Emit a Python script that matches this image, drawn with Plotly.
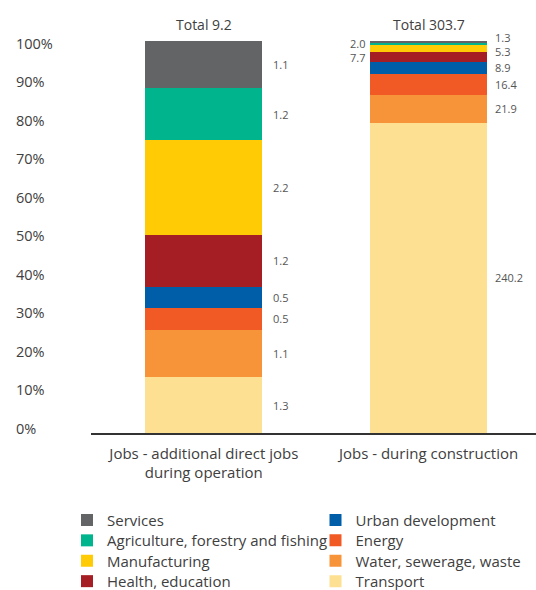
import numpy as np
import plotly.graph_objects as go

categories = ["Jobs - additional direct jobs<br>during operation", "Jobs - during construction"]
totals = ["Total 9.2", "Total 303.7"]

# stacking order, bottom to top
series_names = ["Transport", "Water, sewerage, waste", "Energy", "Urban development",
                "Health, education", "Manufacturing", "Agriculture, forestry and fishing", "Services"]
operation_values = [1.3, 1.1, 0.5, 0.5, 1.2, 2.2, 1.2, 1.1]
construction_values = [240.2, 21.9, 16.4, 8.9, 7.7, 5.3, 2.0, 1.3]
colors = ["#FEE092", "#F7943A", "#F15A25", "#005DA8", "#A41E23", "#FFCB05", "#00B48D", "#636466"]

ytick_vals = [0, 10, 20, 30, 40, 50, 60, 70, 80, 90, 100]
ytick_text = [f"{v}%" for v in ytick_vals]

# legend grid: column (0/1) and row (0..3) of each series
legend_column = [1, 1, 1, 1, 0, 0, 0, 0]
legend_row = [3, 2, 1, 0, 3, 2, 1, 0]

# label placement on construction bar: side and vertical nudge (px)
constr_side = ["right", "right", "right", "right", "left", "right", "left", "right"]
constr_nudge = [0, 0, 0, 0, 0, -3, 0, 4]

FONT = "Open Sans"
x_pos = [0, 1]
bar_w = 0.52

# plot-area geometry in pixels
W, H = 536, 590
ML, MR, MT, MB = 91, 0, 41, 157
PW, PH = W - ML - MR, H - MT - MB

fig = go.Figure()
legend_layouts = {}
for i, name in enumerate(series_names):
    key = "legend" if i == 0 else f"legend{i + 1}"
    fig.add_trace(go.Bar(
        x=x_pos, y=[operation_values[i], construction_values[i]],
        name=name, width=bar_w,
        marker=dict(color=colors[i], line=dict(width=0)),
        legend=key, hoverinfo="skip",
    ))
    text_left_px = 107 + 248.5 * legend_column[i]
    row_center_px = 520 + 20.4 * legend_row[i]
    legend_layouts[key] = dict(
        x=(text_left_px - 40 - ML) / PW, xanchor="left",
        y=(MT + PH - (row_center_px - 16.3)) / PH, yanchor="top",
        orientation="v", font=dict(family=FONT, size=15, color="#404040"),
        bgcolor="rgba(0,0,0,0)",
    )

annotations = []
for xi, vals in enumerate([operation_values, construction_values]):
    v = np.array(vals, dtype=float)
    pct = v / v.sum() * 100
    top = np.cumsum(pct)
    mid = top - pct / 2
    for i in range(len(v)):
        if xi == 0:
            annotations.append(dict(x=xi + bar_w / 2, y=mid[i], xref="x", yref="y",
                                    text=f"{vals[i]:.1f}", showarrow=False, xanchor="left",
                                    xshift=9, yanchor="middle",
                                    font=dict(family=FONT, size=11, color="#555555")))
        else:
            side = constr_side[i]
            annotations.append(dict(x=xi + (bar_w / 2 if side == "right" else -bar_w / 2),
                                    y=mid[i], xref="x", yref="y",
                                    text=f"{vals[i]:.1f}", showarrow=False,
                                    xanchor="left" if side == "right" else "right",
                                    xshift=6 if side == "right" else -3,
                                    yshift=constr_nudge[i], yanchor="middle",
                                    font=dict(family=FONT, size=11, color="#555555")))
    annotations.append(dict(x=xi, y=100, xref="x", yref="y", text=totals[xi], showarrow=False,
                            xanchor="center", yanchor="middle", yshift=17,
                            font=dict(family=FONT, size=14, color="#404040")))

for v, t in zip(ytick_vals, ytick_text):
    annotations.append(dict(x=(14 - ML) / PW, y=v, xref="paper", yref="y", text=t,
                            showarrow=False, xanchor="left", yanchor="middle",
                            yshift=4.5 - 0.065 * v,
                            font=dict(family=FONT, size=14.5, color="#404040")))

fig.update_layout(
    width=W, height=H,
    margin=dict(l=ML, r=MR, t=MT, b=MB, autoexpand=False),
    paper_bgcolor="white", plot_bgcolor="white",
    barmode="stack", barnorm="percent",
    font=dict(family=FONT, size=15, color="#404040"),
    xaxis=dict(range=[-0.502, 1.478], tickvals=x_pos, ticktext=categories,
               showline=True, linecolor="#333333", linewidth=1.5, ticks="",
               ticklabelstandoff=6,
               showgrid=False, zeroline=False, fixedrange=True, automargin=False,
               tickfont=dict(family=FONT, size=15, color="#404040")),
    yaxis=dict(range=[0, 100], showticklabels=False, showgrid=False, zeroline=False,
               showline=False, ticks="", fixedrange=True, automargin=False),
    annotations=annotations,
    showlegend=True,
    **legend_layouts,
)

fig.write_html("out.html", config={"displayModeBar": False},
               post_script="document.body.style.margin='0';")
